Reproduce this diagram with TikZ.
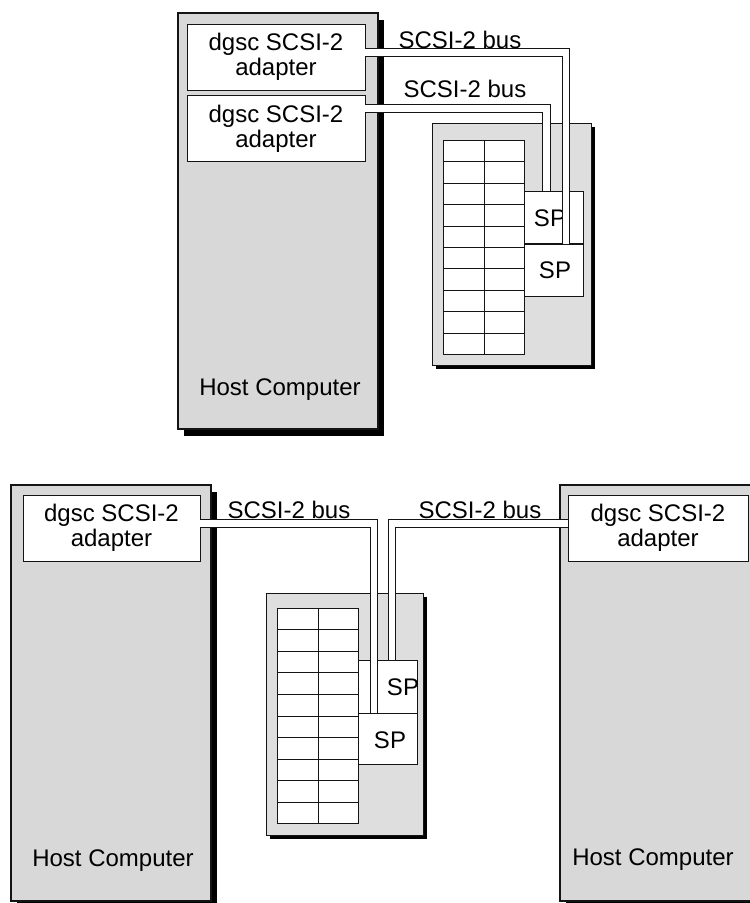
\documentclass[tikz,border=0pt]{standalone}
\usepackage{fontspec}
\setmainfont{Liberation Sans}
\usepackage{tikz}
\usetikzlibrary{positioning,calc,shadows}
\definecolor{cfill}{RGB}{216,216,216}
\definecolor{cline}{RGB}{20,20,20}

\begin{document}
\begin{tikzpicture}[
  x=1pt,y=-1pt,
  font=\fontsize{24}{25}\selectfont,
  host/.style={draw=cline,line width=1.6pt,fill=cfill,minimum width=200pt,minimum height=416pt,
    inner sep=0,anchor=north west,drop shadow={shadow xshift=6pt,shadow yshift=-7pt,fill=black,opacity=1}},
  adapter/.style={draw=cline,line width=0.6pt,fill=white,minimum width=178pt,minimum height=66pt,
    inner sep=0,align=center},
  cab/.style={draw=cline,line width=0.8pt,fill=cfill!85,minimum width=159pt,minimum height=242pt,
    inner sep=0,anchor=north west,drop shadow={shadow xshift=4pt,shadow yshift=-4pt,fill=black,opacity=1}},
  slots/.style={draw=cline,line width=0.6pt,fill=white,minimum width=81pt,minimum height=214pt,
    inner sep=0,anchor=north west},
  sp/.style={draw=cline,line width=0.6pt,fill=white,minimum width=59pt,minimum height=52pt,
    inner sep=0,anchor=north west},
  bus/.style={draw=cline,line width=0.8pt,double=white,double distance=6.5pt,line join=miter},
  cell/.style={cline,line width=0.6pt},
]
\useasboundingbox (0,0) rectangle (750,903);
% --- one host, two adapters, one array ---
\node[host] (hostA) at (177,12) {};
\node[adapter] (adA1) at (276,57) {dgsc SCSI-2\\adapter};
\node[adapter] (adA2) at (276,128.5) {dgsc SCSI-2\\adapter};
\node (hostAL) at (280,390) {Host Computer};
\node[cab] (cabA) at (432,123) {};
\node[slots] (gridA) at (443,140) {};
\foreach \i in {1,...,9}
  \draw[cell] ($(gridA.north west)!\i/10!(gridA.south west)$) -- ($(gridA.north east)!\i/10!(gridA.south east)$);
\draw[cell] (gridA.north) -- (gridA.south);
\node[sp] (spA1) at (524,191) {};
\node[sp] (spA2) at (524,244) {};
\node (spA1L) at (550,218) {SP};
\node (spA2L) at (555,270) {SP};
\draw[bus] (adA2.east |- 0,108.5) -| (spA1.north -| 546.5,0);
\draw[bus] (adA1.east |- 0,52.5) -| (spA2.north -| 566,0);
\node (busA1) at (460,40) {SCSI-2 bus};
\node (busA2) at (465,89) {SCSI-2 bus};
% --- two hosts sharing one array ---
\node[host] (hostB) at (10,484) {};
\node[host] (hostC) at (559,484) {};
\node[adapter,minimum width=177pt] (adB) at (111.5,528) {dgsc SCSI-2\\adapter};
\node[adapter,minimum width=180pt] (adC) at (658,528) {dgsc SCSI-2\\adapter};
\node (hostBL) at (113,861) {Host Computer};
\node (hostCL) at (653,860) {Host Computer};
\node[cab,minimum width=157pt] (cabB) at (266,593) {};
\node[slots,minimum height=215pt] (gridB) at (277,608) {};
\foreach \i in {1,...,9}
  \draw[cell] ($(gridB.north west)!\i/10!(gridB.south west)$) -- ($(gridB.north east)!\i/10!(gridB.south east)$);
\draw[cell] (gridB.north) -- (gridB.south);
\node[sp,minimum height=53pt] (spB1) at (358,660) {};
\node[sp,minimum height=51pt] (spB2) at (358,713) {};
\node (spB1L) at (403,687) {SP};
\node (spB2L) at (390,740) {SP};
\draw[bus] (adC.west |- 0,523.5) -| (spB1.north -| 392,0);
\draw[bus] (adB.east |- 0,523.5) -| (spB2.north -| 374,0);
\node (busB) at (289,510) {SCSI-2 bus};
\node (busC) at (480,510) {SCSI-2 bus};
\end{tikzpicture}
\end{document}
